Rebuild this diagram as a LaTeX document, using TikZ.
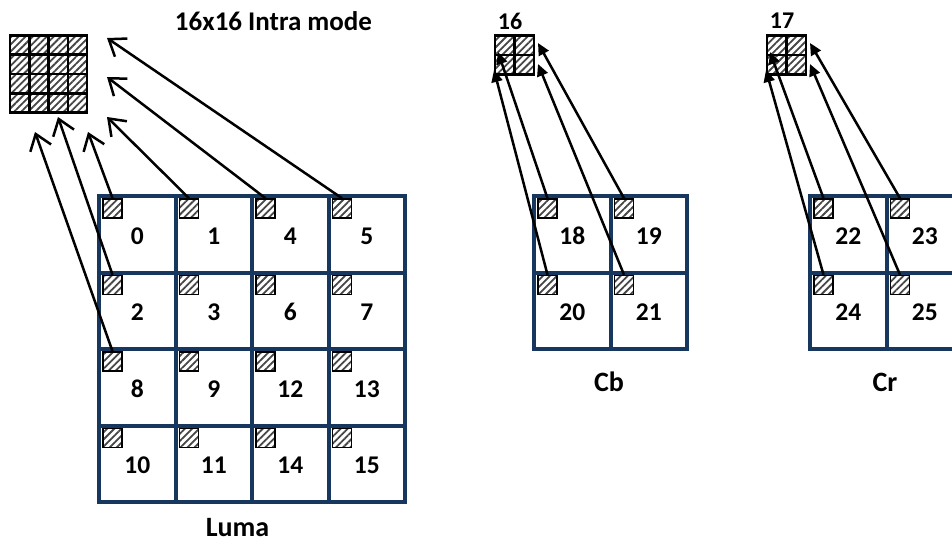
\documentclass[tikz,border=0pt]{standalone}
\usepackage{fontspec}
\setmainfont{Carlito}
\usetikzlibrary{arrows.meta,patterns.meta,calc}
\definecolor{navy}{RGB}{23,55,94}
\definecolor{hatch}{RGB}{70,70,70}
\tikzset{
  lcell/.style={draw=navy, line width=4pt, minimum size=76.5pt, inner sep=0pt, outer sep=0pt,
    font=\fontsize{25.5}{25.5}\selectfont\bfseries, text=black, text height=20pt, text depth=0pt},
  hsq/.style={draw=black, line width=1.5pt, minimum size=19pt, inner sep=0pt,
    pattern={Lines[angle=45,distance=5pt,line width=1.8pt]}, pattern color=hatch},
  blk/.style={draw=black, line width=2.5pt, inner sep=0pt, outer sep=0pt,
    pattern={Lines[angle=45,distance=5pt,line width=1.8pt]}, pattern color=hatch},
  gline/.style={draw=black, line width=2.5pt},
  barb/.style={line width=2.5pt, -{Straight Barb[length=15pt,width=22pt]}},
  tri/.style={line width=2.5pt, -{Triangle[length=12pt,width=11pt]}},
  lbl/.style={font=\fontsize{28}{28}\selectfont\bfseries, inner sep=0pt},
  ttl/.style={font=\fontsize{27}{27}\selectfont\bfseries, inner sep=0pt},
  smalllbl/.style={font=\fontsize{24}{24}\selectfont\bfseries, inner sep=0pt},
}
\begin{document}
\begin{tikzpicture}[x=1pt,y=-1pt]
\useasboundingbox (0,0) rectangle (952,543);
\clip (0,0) rectangle (952,543);
\fill[white] (0,0) rectangle (952,543);

% Luma grid
\foreach \lab [count=\i from 0] in {0,1,4,5,2,3,6,7,8,9,12,13,10,11,14,15} {
  \pgfmathtruncatemacro\col{mod(\i,4)}
  \pgfmathtruncatemacro\row{div(\i,4)}
  \node[lcell] (c\lab) at ({137.25+76.5*\col},{234.25+76.5*\row}) {\lab};
  \node[hsq] (s\lab) at ($(c\lab.north west)+(13.5,12.5)$) {};
}
% Cb grid
\foreach \lab [count=\i from 0] in {18,19,20,21} {
  \pgfmathtruncatemacro\col{mod(\i,2)}
  \pgfmathtruncatemacro\row{div(\i,2)}
  \node[lcell] (c\lab) at ({572.25+76.5*\col},{234.25+76.5*\row}) {\lab};
  \node[hsq] (s\lab) at ($(c\lab.north west)+(13.5,12.5)$) {};
}
% Cr grid
\foreach \lab [count=\i from 0] in {22,23,24,25} {
  \pgfmathtruncatemacro\col{mod(\i,2)}
  \pgfmathtruncatemacro\row{div(\i,2)}
  \node[lcell] (c\lab) at ({848.25+76.5*\col},{234.25+76.5*\row}) {\lab};
  \node[hsq] (s\lab) at ($(c\lab.north west)+(13.5,12.5)$) {};
}

% 16x16 block
\node[blk, minimum size=77pt] (B) at (48.5,74) {};
\foreach \k in {1,2,3} {
  \draw[gline] ($(B.north west)!\k/4!(B.north east)$) -- ($(B.south west)!\k/4!(B.south east)$);
  \draw[gline] ($(B.north west)!\k/4!(B.south west)$) -- ($(B.north east)!\k/4!(B.south east)$);
}
% chroma DC blocks
\node[blk, minimum size=39pt] (Bcb) at (514.5,55) {};
\draw[gline] (Bcb.north) -- (Bcb.south);
\draw[gline] (Bcb.west) -- (Bcb.east);
\node[blk, minimum size=39pt] (Bcr) at (786.5,55) {};
\draw[gline] (Bcr.north) -- (Bcr.south);
\draw[gline] (Bcr.west) -- (Bcr.east);

% labels
\node[ttl] (title) at (273.5,21) {16x16 Intra mode};
\node[smalllbl] (l16) at (510,21) {16};
\node[smalllbl] (l17) at (782,21) {17};
\node[lbl] (luma) at (237.5,528) {Luma};
\node[lbl] (cb) at (609,382) {Cb};
\node[lbl] (cr) at (885,382) {Cr};

% luma arrow tips
\coordinate (t5) at (107,38);
\coordinate (t4) at (107,77);
\coordinate (t1) at (107,117);
\coordinate (t0) at (88,132);
\coordinate (t2) at (58,117);
\coordinate (t8) at (35,132);
\draw[barb] (s5.north) -- (t5);
\draw[barb] (s4.north) -- (t4);
\draw[barb] (s1.north) -- (t1);
\draw[barb] (s0.north) -- (t0);
\draw[barb] (s2.north) -- (t2);
\draw[barb] (s8.north) -- (t8);

% chroma arrow tips
\coordinate (t18) at (498,52);
\coordinate (t20) at (494,70);
\coordinate (t19) at (538,43);
\coordinate (t21) at (538,64);
\coordinate (t22) at (770,52);
\coordinate (t24) at (766,70);
\coordinate (t23) at (810,43);
\coordinate (t25) at (810,64);
\foreach \n in {18,19,20,21,22,23,24,25} {
  \draw[tri] (s\n.north) -- (t\n);
}
\end{tikzpicture}
\end{document}
